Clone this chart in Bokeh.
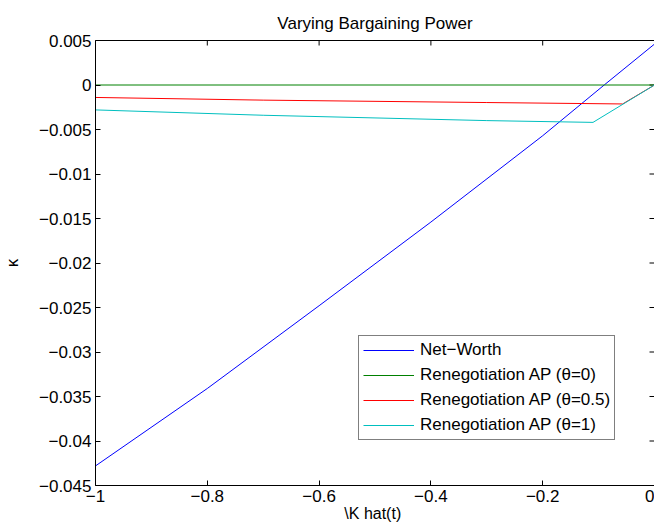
import math
from bokeh.plotting import figure
from bokeh.models import (LinearAxis, FixedTicker, Range1d, Legend, LegendItem)
from bokeh.embed import file_html
from bokeh.resources import INLINE

# ---- data ----
nw_x = [-1.0, -0.8, -0.6, -0.4, -0.2, -0.09, 0.0]
nw_y = [-0.0428, -0.0341, -0.0248, -0.0154, -0.0057, 0.0, 0.0046]

ap0_x = [-1.0, 0.0]
ap0_y = [0.0, 0.0]

ap05_x = [-1.0, -0.7, -0.3, -0.057, 0.0]
ap05_y = [-0.0014, -0.0017, -0.00197, -0.00213, 0.0]

ap1_x = [-1.0, -0.7, -0.3, -0.11, 0.0]
ap1_y = [-0.0028, -0.0034, -0.0040, -0.0042, 0.0]

x_ticks = [-1.0, -0.8, -0.6, -0.4, -0.2, 0.0]
x_tick_labels = ["\u22121", "\u22120.8", "\u22120.6", "\u22120.4", "\u22120.2", "0"]
y_ticks = [0.005, 0.0, -0.005, -0.01, -0.015, -0.02, -0.025, -0.03, -0.035, -0.04, -0.045]
y_tick_labels = ["0.005", "0", "\u22120.005", "\u22120.01", "\u22120.015", "\u22120.02",
                 "\u22120.025", "\u22120.03", "\u22120.035", "\u22120.04", "\u22120.045"]

series_labels = ["Net\u2212Worth", "Renegotiation AP (\u03b8=0)",
                 "Renegotiation AP (\u03b8=0.5)", "Renegotiation AP (\u03b8=1)"]
series_colors = ["#0000ff", "#008000", "#ff0000", "#00bfbf"]

TITLE = "Varying Bargaining Power"
X_LABEL = "\\K  hat(t)"
Y_LABEL = "\u03ba"

X_MIN, X_MAX = -1.0, 0.0
Y_MIN, Y_MAX = -0.045, 0.005

FONT = "Liberation Sans"
FS = "17px"

p = figure(width=654, height=527, output_backend="svg", toolbar_location=None,
           x_range=Range1d(X_MIN, X_MAX), y_range=Range1d(Y_MIN, Y_MAX),
           x_axis_type=None, y_axis_type=None,
           min_border_left=91, min_border_right=0, min_border_top=40, min_border_bottom=42)
p.outline_line_color = None
p.xgrid.visible = False
p.ygrid.visible = False
p.background_fill_color = "white"
p.border_fill_color = "white"

def style_axis(ax):
    ax.axis_line_color = "black"
    ax.axis_line_width = 1
    ax.major_tick_line_color = "black"
    ax.major_tick_in = 5
    ax.major_tick_out = 0
    ax.minor_tick_line_color = None
    ax.major_label_text_font = FONT
    ax.major_label_text_font_size = FS
    ax.major_label_text_color = "black"
    ax.axis_label_text_font = FONT
    ax.axis_label_text_font_size = FS
    ax.axis_label_text_font_style = "normal"
    ax.axis_label_text_color = "black"

xb = LinearAxis(ticker=FixedTicker(ticks=x_ticks),
                major_label_overrides=dict(zip(x_ticks, x_tick_labels)),
                axis_label=X_LABEL, axis_label_standoff=0,
                major_label_standoff=4)
style_axis(xb)
xb.axis_label_text_font_size = "16px"
p.add_layout(xb, "below")

# top border line; its axis label serves as the chart title
xa = LinearAxis(ticker=FixedTicker(ticks=[]), major_label_standoff=0,
                axis_label=TITLE, axis_label_standoff=8)
style_axis(xa)
p.add_layout(xa, "above")

yl = LinearAxis(ticker=FixedTicker(ticks=y_ticks),
                major_label_overrides=dict(zip(y_ticks, y_tick_labels)),
                axis_label=Y_LABEL, axis_label_standoff=14, major_label_standoff=4)
style_axis(yl)
p.add_layout(yl, "left")

# inward ticks on top and right edges (half of each dash is clipped by the frame)
p.scatter(x=x_ticks, y=[Y_MAX] * len(x_ticks), marker="dash", angle=math.pi / 2,
          size=10, line_color="black", line_width=1)
p.scatter(x=[X_MAX] * len(y_ticks), y=y_ticks, marker="dash", angle=0,
          size=10, line_color="black", line_width=1)

r_nw = p.line(nw_x, nw_y, line_color=series_colors[0], line_width=1)
r_0 = p.line(ap0_x, ap0_y, line_color=series_colors[1], line_width=1)
r_05 = p.line(ap05_x, ap05_y, line_color=series_colors[2], line_width=1)
r_1 = p.line(ap1_x, ap1_y, line_color=series_colors[3], line_width=1)

items = [LegendItem(label=lab, renderers=[r]) for lab, r in
         zip(series_labels, [r_nw, r_0, r_05, r_1])]
legend = Legend(items=items, location=(263, 45), glyph_width=51, glyph_height=20,
                label_height=20, spacing=5, padding=4, margin=0, label_standoff=6,
                border_line_color="black", border_line_width=1,
                background_fill_color="white", background_fill_alpha=1.0,
                label_text_font=FONT, label_text_font_size=FS,
                label_text_color="black")
p.add_layout(legend, "center")

open("out.html", "w").write(file_html(p, INLINE))
